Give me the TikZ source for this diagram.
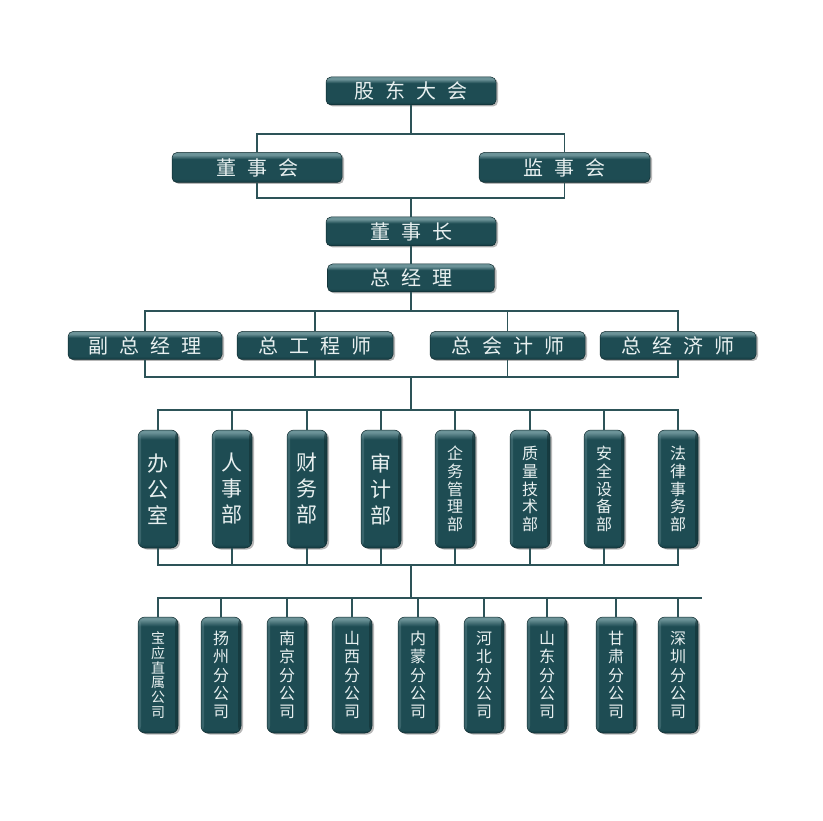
\documentclass[tikz,border=0pt]{standalone}
\usepackage{fontspec}
\newfontfamily\cjk{Noto Sans CJK SC}
\usetikzlibrary{shadows}
\definecolor{bxmain}{HTML}{1E4C53}
\definecolor{bxlight}{HTML}{6C9398}
\definecolor{bxdark}{HTML}{133A40}
\definecolor{bxedge}{HTML}{0F2B2F}
\definecolor{txt}{HTML}{E8F0F0}
\definecolor{ln}{HTML}{2D5358}
\pgfdeclareverticalshading{hshade}{100bp}{color(0bp)=(bxdark); color(25bp)=(bxdark); color(31bp)=(bxmain); color(64bp)=(bxmain); color(71bp)=(bxlight); color(75bp)=(bxlight); color(100bp)=(bxlight)}
\pgfdeclareverticalshading{vshade}{100bp}{color(0bp)=(bxdark); color(25bp)=(bxdark); color(26.5bp)=(bxmain); color(71bp)=(bxmain); color(74bp)=(bxlight); color(75bp)=(bxlight); color(100bp)=(bxlight)}
\newcommand\hs{\hspace{11pt}}
\begin{document}
\begin{tikzpicture}[x=1pt,y=-1pt,
  base/.style={draw=bxedge, line width=0.5pt, shade, text=txt, inner sep=0pt,
    drop shadow={shadow xshift=2pt, shadow yshift=-1.5pt, opacity=0.4, fill=black!70}},
  hbox/.style={base, rounded corners=5pt, shading=hshade, font=\cjk\fontsize{20}{20}\selectfont},
  vrim/.style={path picture={
      \fill[bxlight, opacity=0.35] (path picture bounding box.north west) rectangle ([xshift=3pt]path picture bounding box.south west);
      \fill[bxedge, opacity=0.5] ([xshift=-3pt]path picture bounding box.north east) rectangle (path picture bounding box.south east);}},
  dbox/.style={base, rounded corners=7pt, shading=vshade, vrim, minimum width=40pt, minimum height=118pt, align=center},
  bbox/.style={base, rounded corners=7pt, shading=vshade, vrim, minimum width=40pt, minimum height=116pt, align=center},
  fthree/.style={font=\cjk\fontsize{21}{26}\selectfont},
  ffive/.style={font=\cjk\fontsize{16}{17.8}\selectfont},
  fbr/.style={font=\cjk\fontsize{16}{18.3}\selectfont},
  fsix/.style={font=\cjk\fontsize{14}{14.7}\selectfont},
  conn/.style={draw=ln, line width=1.4pt}]
\useasboundingbox[fill=white] (0,0) rectangle (823,821);

% top levels
\node[hbox, minimum width=170pt, minimum height=28pt] (gd) at (411,91) {股\hs 东\hs 大\hs 会};
\node[hbox, minimum width=170pt, minimum height=30pt] (dsh) at (257,167.5) {董\hs 事\hs 会};
\node[hbox, minimum width=171pt, minimum height=30pt] (jsh) at (564.5,167.5) {监\hs 事\hs 会};
\node[hbox, minimum width=170pt, minimum height=29pt] (dsz) at (411,231.5) {董\hs 事\hs 长};
\node[hbox, minimum width=167pt, minimum height=28pt] (zjl) at (411,278) {总\hs 经\hs 理};

% executives
\node[hbox, minimum width=154pt, minimum height=28pt] (fz) at (145,345.5) {副\hs 总\hs 经\hs 理};
\node[hbox, minimum width=156pt, minimum height=28pt] (zg) at (315,345.5) {总\hs 工\hs 程\hs 师};
\node[hbox, minimum width=155pt, minimum height=28pt] (zk) at (507.5,345.5) {总\hs 会\hs 计\hs 师};
\node[hbox, minimum width=156pt, minimum height=28pt] (zj) at (678,345.5) {总\hs 经\hs 济\hs 师};

% departments
\node[dbox, fthree] (d1) at (158,489) {办\\公\\室};
\node[dbox, fthree] (d2) at (232,489) {人\\事\\部};
\node[dbox, fthree] (d3) at (307,489) {财\\务\\部};
\node[dbox, fthree] (d4) at (381,489) {审\\计\\部};
\node[dbox, ffive] (d5) at (455,489) {企\\务\\管\\理\\部};
\node[dbox, ffive] (d6) at (530,489) {质\\量\\技\\术\\部};
\node[dbox, ffive] (d7) at (604,489) {安\\全\\设\\备\\部};
\node[dbox, ffive] (d8) at (678,489) {法\\律\\事\\务\\部};

% branches
\node[bbox, fsix] (b1) at (158,675) {宝\\应\\直\\属\\公\\司};
\node[bbox, fbr] (b2) at (221,675) {扬\\州\\分\\公\\司};
\node[bbox, fbr] (b3) at (287,675) {南\\京\\分\\公\\司};
\node[bbox, fbr] (b4) at (352,675) {山\\西\\分\\公\\司};
\node[bbox, fbr] (b5) at (418,675) {内\\蒙\\分\\公\\司};
\node[bbox, fbr] (b6) at (484,675) {河\\北\\分\\公\\司};
\node[bbox, fbr] (b7) at (547,675) {山\\东\\分\\公\\司};
\node[bbox, fbr] (b8) at (616,675) {甘\\肃\\分\\公\\司};
\node[bbox, fbr] (b9) at (678,675) {深\\圳\\分\\公\\司};

% trunk coordinates
\coordinate (t1) at (411,134);
\coordinate (t2) at (411,198);
\coordinate (t3) at (411,311);
\coordinate (t4) at (411,377);
\coordinate (t5) at (411,410);
\coordinate (t6) at (411,565);
\coordinate (t7) at (411,598);
\coordinate (tend) at (702,598);

% connectors
\draw[conn] (gd.south) -- (t1);
\draw[conn] (dsh.north) |- (t1) -| (jsh.north);
\draw[conn] (dsh.south) |- (t2) -| (jsh.south);
\draw[conn] (t2) -- (dsz.north);
\draw[conn] (dsz.south) -- (zjl.north);
\draw[conn] (zjl.south) -- (t3);
\draw[conn] (fz.north) |- (t3) -| (zj.north);
\draw[conn] (fz.south) |- (t4) -| (zj.south);
\foreach \n in {zg,zk}{
  \draw[conn] (\n.north) -- (\n.north |- t3);
  \draw[conn] (\n.south) -- (\n.south |- t4);
}
\draw[conn] (t4) -- (t5);
\draw[conn] (d1.north) |- (t5) -| (d8.north);
\draw[conn] (d1.south) |- (t6) -| (d8.south);
\foreach \n in {d2,d3,d4,d5,d6,d7}{
  \draw[conn] (\n.north) -- (\n.north |- t5);
  \draw[conn] (\n.south) -- (\n.south |- t6);
}
\draw[conn] (t6) -- (t7);
\draw[conn] (b1.north) |- (t7) -- (tend);
\foreach \n in {b2,b3,b4,b5,b6,b7,b8,b9}{
  \draw[conn] (\n.north) -- (\n.north |- t7);
}
\end{tikzpicture}
\end{document}
